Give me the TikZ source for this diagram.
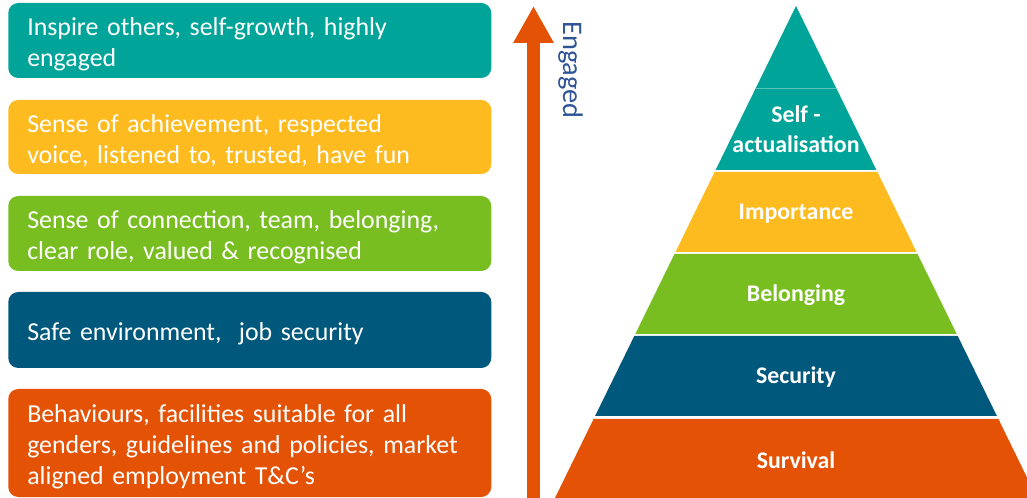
\documentclass[tikz,border=0pt]{standalone}
\usepackage{fontspec}
\setmainfont{Carlito}
\usetikzlibrary{arrows.meta}

\definecolor{tealc}{HTML}{00A499}
\definecolor{yellowc}{HTML}{FDBB1F}
\definecolor{greenc}{HTML}{78BE21}
\definecolor{bluec}{HTML}{00587C}
\definecolor{orangec}{HTML}{E35205}
\definecolor{labelblue}{HTML}{2F5597}

\begin{document}
\begin{tikzpicture}[x=0.75pt,y=-0.75pt,
  infobox/.style={rounded corners=7.5pt, anchor=west, minimum width=362.25pt,
    inner sep=0pt},
  infotext/.style={anchor=west, text width=333.75pt, inner xsep=14.25pt,
    inner ysep=0pt, align=left, text=white,
    font=\fontsize{19.4}{23.25}\selectfont},
  tierlabel/.style={text=white, align=center,
    font=\bfseries\fontsize{17.9}{22.5}\selectfont}]

\clip (0,0) rectangle (1027,498);
\fill[white] (0,0) rectangle (1027,498);

% description boxes, top to bottom
\node[infobox, fill=tealc, minimum height=56.25pt] (b1) at (8,40.5) {};
\node[infobox, fill=yellowc, minimum height=55.5pt] (b2) at (8,137) {};
\node[infobox, fill=greenc, minimum height=56.25pt] (b3) at (8,233.5) {};
\node[infobox, fill=bluec, minimum height=57pt] (b4) at (8,330) {};
\node[infobox, fill=orangec, minimum height=81pt] (b5) at (8,443) {};

% their texts, set a little below each box's middle
\node[infotext] (t1) at ([yshift=-3pt]b1.west)
  {Inspire others, self-growth, highly\\engaged};
\node[infotext] (t2) at ([yshift=-3pt]b2.west)
  {Sense of achievement, respected\\voice, listened to, trusted, have fun};
\node[infotext] (t3) at ([yshift=-3pt]b3.west)
  {Sense of connection, team, belonging,\\clear role, valued \& recognised};
\node[infotext] (t4) at ([yshift=-2.5pt]b4.west)
  {Safe environment,~ job security};
\node[infotext] (t5) at ([yshift=-3pt]b5.west)
  {Behaviours, facilities suitable for all\\genders, guidelines and policies, market\\aligned employment T\&C’s};

% engagement arrow
\coordinate (arrowfoot) at (533.5,500);
\coordinate (arrowtip) at (533.5,6);
\draw[orangec, line width=9.75pt, -{Triangle[width=28.5pt,length=27.75pt]}]
  (arrowfoot) -- (arrowtip);
\node[rotate=-90, anchor=base, text=labelblue, inner sep=0pt,
  font=\fontsize{21.3}{25}\selectfont] (engaged) at (563,70) {Engaged};

% pyramid tiers
\fill[tealc] (796,6) -- (755.82,88) -- (836.18,88) -- cycle;
\fill[tealc] (755.82,88) -- (836.18,88) -- (876.4,170) -- (715.6,170) -- cycle;
\draw[tealc!65!white, line width=0.6pt] (756.3,88) -- (835.7,88);
\fill[yellowc] (714.6,172) -- (877.4,172) -- (916.5,252) -- (675.5,252) -- cycle;
\fill[greenc] (674.5,254) -- (917.5,254) -- (956.7,334) -- (635.3,334) -- cycle;
\fill[bluec] (634.3,336) -- (957.7,336) -- (996.9,416) -- (595.1,416) -- cycle;
\fill[orangec] (593.6,419) -- (998.4,419) -- (1038,500) -- (554,500) -- cycle;

% tier labels
\node[tierlabel] (selfact) at (796,129) {Self -\\actualisation};
\node[tierlabel] (importance) at (796,213.5) {Importance};
\node[tierlabel] (belonging) at (796,295.5) {Belonging};
\node[tierlabel] (security) at (796,377.5) {Security};
\node[tierlabel] (survival) at (796,460) {Survival};
\end{tikzpicture}
\end{document}
